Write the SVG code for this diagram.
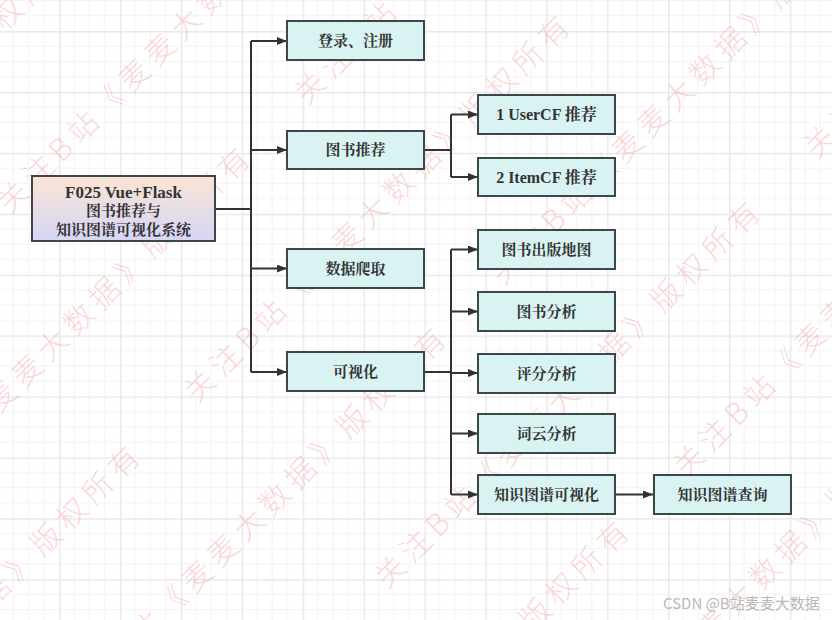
<svg xmlns="http://www.w3.org/2000/svg" width="832" height="620" viewBox="0 0 832 620">
<defs>
<pattern id="grid" patternUnits="userSpaceOnUse" x="-1.9" y="-29.9" width="60.9" height="60.9">
<rect width="60.9" height="60.9" fill="#ffffff"/>
<path d="M15.2 0V60.9M30.45 0V60.9M45.7 0V60.9M0 15.2H60.9M0 30.45H60.9M0 45.7H60.9" stroke="#f3f3f3" stroke-width="1"/>
<path d="M0.75 0V60.9M0 0.75H60.9" stroke="#e9e9e9" stroke-width="1.5"/>
</pattern>
<linearGradient id="rootfill" x1="0" y1="0" x2="0" y2="1">
<stop offset="0" stop-color="#fbe4d4"/>
<stop offset="1" stop-color="#d5d6f7"/>
</linearGradient>
<marker id="arrow" viewBox="0 0 10 8" refX="10" refY="4" markerWidth="10" markerHeight="8" markerUnits="userSpaceOnUse" orient="auto">
<path d="M0 0L10 4L0 8Z" fill="#333333"/>
</marker>
<style>
.box{fill:#d9f3f3;stroke:#3c474d;stroke-width:2}
.root{fill:url(#rootfill);stroke:#3c474d;stroke-width:2}
.lbl{font-family:"Liberation Serif","Noto Serif CJK SC","Noto Sans CJK SC",serif;font-size:15px;font-weight:bold;fill:#333333;text-anchor:middle}
.big{font-size:17px}
.mid{font-size:16px}
.ln{fill:none;stroke:#333333;stroke-width:2}
.wm{font-family:"Noto Sans CJK SC","Noto Sans CJK JP",sans-serif;font-size:30px;font-weight:300;fill:#f08c8c;fill-opacity:0.34}
.csdn{font-family:"Noto Sans CJK SC","Liberation Sans",sans-serif;font-size:15px;fill:#b8b8b8}
</style>
</defs>
<rect x="0" y="0" width="832" height="620" fill="url(#grid)"/>

<g id="watermark">
<text class="wm" x="-297" y="334" textLength="530" lengthAdjust="spacing" transform="rotate(-45 -297 334)">关注B站《麦麦大数据》版权所有</text>
<text class="wm" x="10" y="215" textLength="530" lengthAdjust="spacing" transform="rotate(-45 10 215)">关注B站《麦麦大数据》版权所有</text>
<text class="wm" x="307" y="106" textLength="530" lengthAdjust="spacing" transform="rotate(-45 307 106)">关注B站《麦麦大数据》版权所有</text>
<text class="wm" x="-123" y="536" textLength="530" lengthAdjust="spacing" transform="rotate(-45 -123 536)">关注B站《麦麦大数据》版权所有</text>
<text class="wm" x="197" y="404" textLength="530" lengthAdjust="spacing" transform="rotate(-45 197 404)">关注B站《麦麦大数据》版权所有</text>
<text class="wm" x="-233" y="834" textLength="530" lengthAdjust="spacing" transform="rotate(-45 -233 834)">关注B站《麦麦大数据》版权所有</text>
<text class="wm" x="503" y="286" textLength="530" lengthAdjust="spacing" transform="rotate(-45 503 286)">关注B站《麦麦大数据》版权所有</text>
<text class="wm" x="73" y="716" textLength="530" lengthAdjust="spacing" transform="rotate(-45 73 716)">关注B站《麦麦大数据》版权所有</text>
<text class="wm" x="387" y="590" textLength="530" lengthAdjust="spacing" transform="rotate(-45 387 590)">关注B站《麦麦大数据》版权所有</text>
<text class="wm" x="817" y="160" textLength="530" lengthAdjust="spacing" transform="rotate(-45 817 160)">关注B站《麦麦大数据》版权所有</text>
<text class="wm" x="256" y="909" textLength="530" lengthAdjust="spacing" transform="rotate(-45 256 909)">关注B站《麦麦大数据》版权所有</text>
<text class="wm" x="686" y="479" textLength="530" lengthAdjust="spacing" transform="rotate(-45 686 479)">关注B站《麦麦大数据》版权所有</text>
<text class="wm" x="563" y="790" textLength="530" lengthAdjust="spacing" transform="rotate(-45 563 790)">关注B站《麦麦大数据》版权所有</text>
</g>

<g id="connectors">
<path class="ln" d="M216 209H251"/>
<path class="ln" d="M251 41V372"/>
<path class="ln" d="M251 41H287" marker-end="url(#arrow)"/>
<path class="ln" d="M251 150H287" marker-end="url(#arrow)"/>
<path class="ln" d="M251 268.5H287" marker-end="url(#arrow)"/>
<path class="ln" d="M251 372H287" marker-end="url(#arrow)"/>
<path class="ln" d="M425 150H451"/>
<path class="ln" d="M451 114.5V177"/>
<path class="ln" d="M451 114.5H478" marker-end="url(#arrow)"/>
<path class="ln" d="M451 177H478" marker-end="url(#arrow)"/>
<path class="ln" d="M425 372H451"/>
<path class="ln" d="M451 249.5V494.5"/>
<path class="ln" d="M451 249.5H478" marker-end="url(#arrow)"/>
<path class="ln" d="M451 311.5H478" marker-end="url(#arrow)"/>
<path class="ln" d="M451 373H478" marker-end="url(#arrow)"/>
<path class="ln" d="M451 433.5H478" marker-end="url(#arrow)"/>
<path class="ln" d="M451 494.5H478" marker-end="url(#arrow)"/>
<path class="ln" d="M616 494.5H653" marker-end="url(#arrow)"/>
</g>

<g id="root">
<rect class="root" x="32" y="176" width="183" height="65"/>
<text class="lbl big" x="123.5" y="198">F025 Vue+Flask</text>
<text class="lbl" x="123.5" y="215.5">图书推荐与</text>
<text class="lbl" x="123.5" y="234.5">知识图谱可视化系统</text>
</g>
<g id="login">
<rect class="box" x="287" y="21" width="137" height="39"/>
<text class="lbl" x="355.5" y="46">登录、注册</text>
</g>
<g id="recommend">
<rect class="box" x="287" y="131" width="137" height="38"/>
<text class="lbl" x="355.5" y="155">图书推荐</text>
</g>
<g id="crawl">
<rect class="box" x="287" y="249" width="137" height="39"/>
<text class="lbl" x="355.5" y="274">数据爬取</text>
</g>
<g id="visual">
<rect class="box" x="287" y="352" width="137" height="39"/>
<text class="lbl" x="355.5" y="377">可视化</text>
</g>
<g id="usercf">
<rect class="box" x="478" y="95" width="137" height="39"/>
<text class="lbl mid" x="546.5" y="120">1 UserCF 推荐</text>
</g>
<g id="itemcf">
<rect class="box" x="478" y="158" width="137" height="38"/>
<text class="lbl mid" x="546.5" y="182.5">2 ItemCF 推荐</text>
</g>
<g id="map">
<rect class="box" x="478" y="230" width="137" height="39"/>
<text class="lbl" x="546.5" y="255">图书出版地图</text>
</g>
<g id="bookana">
<rect class="box" x="478" y="292" width="137" height="39"/>
<text class="lbl" x="546.5" y="317">图书分析</text>
</g>
<g id="scoreana">
<rect class="box" x="478" y="354" width="137" height="39"/>
<text class="lbl" x="546.5" y="379">评分分析</text>
</g>
<g id="cloud">
<rect class="box" x="478" y="414" width="137" height="39"/>
<text class="lbl" x="546.5" y="439">词云分析</text>
</g>
<g id="kgvis">
<rect class="box" x="478" y="475" width="137" height="39"/>
<text class="lbl" x="546.5" y="500">知识图谱可视化</text>
</g>
<g id="kgquery">
<rect class="box" x="654" y="475" width="137" height="39"/>
<text class="lbl" x="722.5" y="500">知识图谱查询</text>
</g>
<text class="csdn" x="663" y="609">CSDN @B站麦麦大数据</text>
</svg>
